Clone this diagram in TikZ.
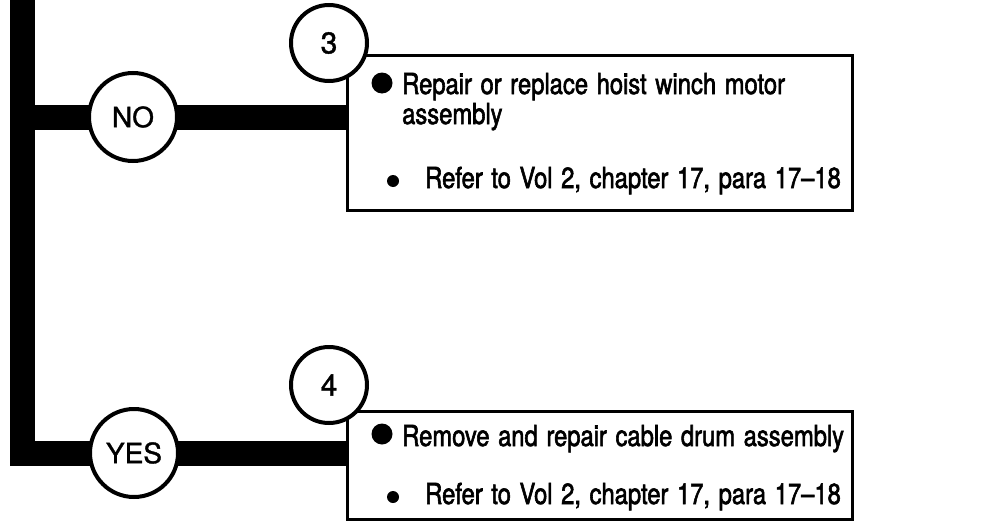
\documentclass[tikz,border=0pt]{standalone}
\usepackage{fontspec}
\setmainfont{TeX Gyre Heros}[FakeStretch=0.82,FakeBold=2,WordSpace=1.3]
\newfontfamily\labelfont{TeX Gyre Heros}[FakeBold=1.2]
\usetikzlibrary{backgrounds}
\begin{document}
\begin{tikzpicture}[x=1pt,y=-1pt,
  bar/.style={line width=25pt},
  labelcircle/.style={circle,draw,line width=4pt,fill=white,inner sep=0pt,font=\labelfont\fontsize{28}{28}\selectfont},
  numcircle/.style={labelcircle,font=\labelfont\fontsize{30}{30}\selectfont},
  box/.style={draw,line width=3pt,inner sep=0pt,minimum width=505pt},
  txt/.style={anchor=base west,inner sep=0pt,font=\fontsize{29}{30}\selectfont},
  bigdot/.style={circle,fill=black,inner sep=0pt,minimum size=21pt},
  smalldot/.style={circle,fill=black,inner sep=0pt,minimum size=12pt}]
\useasboundingbox (0,0) rectangle (996,522);
\coordinate (top) at (22,-15);
% boxes
\node[box,minimum height=155pt] (box1) at (599.5,132.5) {};
\node[box,minimum height=108pt] (box2) at (599.5,465) {};
% circles
\node[labelcircle,minimum size=88pt] (no) at (133,117) {NO};
\node[numcircle,minimum size=76pt] (n3) at (329,43) {3};
\node[labelcircle,minimum size=88pt] (yes) at (134,453) {YES};
\node[numcircle,minimum size=76pt] (n4) at (329,385) {4};
% bars
\begin{pgfonlayer}{background}
\draw[bar] (top) |- (yes.center) -- (yes.center -| box2.west);
\draw[bar] (top |- no.center) -- (no.center) -- (no.center -| box1.west);
\end{pgfonlayer}
% box 1 text
\node[bigdot] (b1) at (382,83) {};
\node[txt] (t1) at (402,94) {Repair or replace hoist winch motor};
\node[txt] (t2) at (402,124) {assembly};
\node[smalldot] (s1) at (393,181) {};
\node[txt] (t3) at (425,188) {Refer to Vol 2, chapter 17, para 17--18};
% box 2 text
\node[bigdot] (b2) at (382,434) {};
\node[txt] (t4) at (402,446) {Remove and repair cable drum assembly};
\node[smalldot] (s2) at (393,497) {};
\node[txt] (t5) at (425,504) {Refer to Vol 2, chapter 17, para 17--18};
\end{tikzpicture}
\end{document}
